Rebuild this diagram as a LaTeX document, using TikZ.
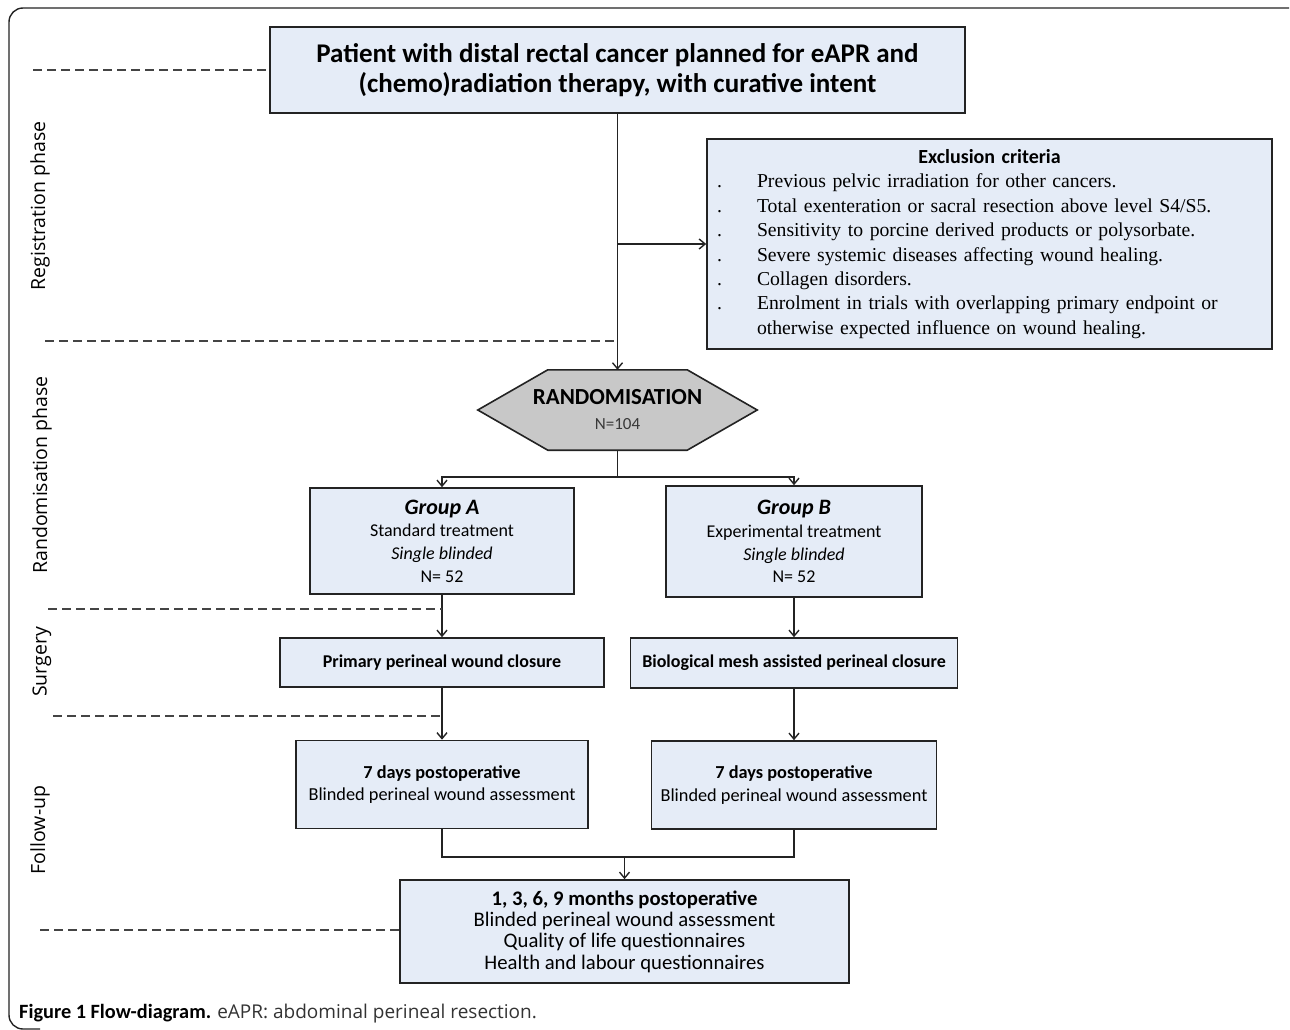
\documentclass[tikz,border=0pt]{standalone}
\usepackage{fontspec}
\setmainfont{Carlito}
\newfontfamily\serifx{Liberation Serif}
\newfontfamily\phasefont{Open Sans}
\usetikzlibrary{arrows.meta,backgrounds}
\definecolor{boxblue}{RGB}{229,236,247}
\definecolor{hexgray}{RGB}{200,200,200}
\definecolor{linegray}{RGB}{35,35,35}
\newcommand\exitem[1]{\makebox[40pt][l]{.}#1}
\tikzset{
  box/.style={draw=linegray, line width=1.6pt, fill=boxblue, inner sep=0pt, align=center},
  conn/.style={draw=linegray, line width=1.4pt},
  arr/.style={conn, -{Straight Barb[length=6pt,width=10pt]}},
  phase/.style={draw=linegray!85, line width=1.6pt, dash pattern=on 9pt off 5pt},
  phaselabel/.style={rotate=90, inner sep=0pt, font=\phasefont\fontsize{19.5}{22}\selectfont},
}
\begin{document}
\begin{tikzpicture}[x=1pt,y=-1pt]
\useasboundingbox (0,0) rectangle (1290,1030);
\draw[conn, rounded corners=14pt] (1289,8) -- (9,8) -- (9,1029) -- (40,1029);

% registration
\node[box, minimum width=695pt, minimum height=86pt, font=\bfseries\fontsize{27}{30}\selectfont] (patient) at (617.5,70) {Patient with distal rectal cancer planned for eAPR and\\(chemo)radiation therapy, with curative intent};
\node[box, minimum width=565pt, minimum height=210pt, text width=545pt, align=left, font=\serifx\fontsize{19.7}{24.4}\selectfont] (excl) at (989.5,244) {\makebox[545pt]{\rmfamily\bfseries\fontsize{20}{24.4}\selectfont Exclusion criteria}\\
\exitem{Previous pelvic irradiation for other cancers.}\\
\exitem{Total exenteration or sacral resection above level S4/S5.}\\
\exitem{Sensitivity to porcine derived products or polysorbate.}\\
\exitem{Severe systemic diseases affecting wound healing.}\\
\exitem{Collagen disorders.}\\
\exitem{Enrolment in trials with overlapping primary endpoint or}\\
\hspace*{40pt}otherwise expected influence on wound healing.};

% randomisation
\node[minimum width=279pt, minimum height=80pt, inner sep=0pt, align=center, font=\fontsize{17}{25}\selectfont] (rand) at (617.5,410) {{\bfseries\fontsize{23}{25}\selectfont RANDOMISATION}\\{\color{linegray!90}N=104}};
\begin{scope}[on background layer]
\draw[conn, line width=1.6pt, fill=hexgray] (rand.west) -- ([xshift=70pt]rand.north west) -- ([xshift=-70pt]rand.north east) -- (rand.east) -- ([xshift=-70pt]rand.south east) -- ([xshift=70pt]rand.south west) -- cycle;
\end{scope}
\node[box, minimum width=264pt, minimum height=106pt, font=\fontsize{18}{22.7}\selectfont] (grpA) at (442,541) {{\bfseries\itshape\fontsize{22}{22.7}\selectfont Group A}\\Standard treatment\\\textit{Single blinded}\\N= 52};
\node[box, minimum width=256pt, minimum height=111pt, font=\fontsize{18}{22.7}\selectfont] (grpB) at (794,541.5) {{\bfseries\itshape\fontsize{22}{22.7}\selectfont Group B}\\Experimental treatment\\\textit{Single blinded}\\N= 52};

% surgery
\node[box, minimum width=324pt, minimum height=49pt, font=\bfseries\fontsize{18}{22}\selectfont] (surgA) at (442,662.5) {Primary perineal wound closure};
\node[box, minimum width=327pt, minimum height=50pt, font=\bfseries\fontsize{18}{22}\selectfont] (surgB) at (794,663) {Biological mesh assisted perineal closure};

% follow-up
\node[box, minimum width=292pt, minimum height=88pt, font=\fontsize{18.3}{22.5}\selectfont] (fupA) at (442,784.5) {\textbf{7 days postoperative}\\Blinded perineal wound assessment};
\node[box, minimum width=285pt, minimum height=88pt, font=\fontsize{18.3}{22.5}\selectfont] (fupB) at (794,785) {\textbf{7 days postoperative}\\Blinded perineal wound assessment};
\node[box, minimum width=449pt, minimum height=103pt, font=\fontsize{20.7}{21.4}\selectfont] (final) at (624.5,931.5) {\textbf{1, 3, 6, 9 months postoperative}\\Blinded perineal wound assessment\\Quality of life questionnaires\\Health and labour questionnaires};

% connectors
\draw[arr] (patient) -- (rand);
\draw[arr] (patient.south |- excl.west) -- (excl.west);
\coordinate (split) at (617.5,477);
\draw[conn] (rand.south) -- (split);
\draw[arr] (split) -| (grpA.north);
\draw[arr] (split) -| (grpB.north);
\draw[arr] (grpA) -- (surgA);
\draw[arr] (grpB) -- (surgB);
\draw[arr] (surgA) -- (fupA);
\draw[arr] (surgB) -- (fupB);
\coordinate (merge) at (624.5,857);
\draw[conn] (fupA.south) |- (merge);
\draw[conn] (fupB.south) |- (merge);
\draw[arr] (merge) -- (final);

% phases
\coordinate (ph1) at (33,70);  \draw[phase] (ph1) -- (patient.west);
\coordinate (ph2) at (45,341); \draw[phase] (ph2) -- (ph2 -| patient.south);
\coordinate (ph3) at (48,609); \draw[phase] (ph3) -- (ph3 -| grpA.south);
\coordinate (ph4) at (53,716); \draw[phase] (ph4) -- (ph4 -| surgA.south);
\coordinate (ph5) at (40,930); \draw[phase] (ph5) -- (ph5 -| final.west);
\node[phaselabel] (lblreg) at (40,206) {Registration phase};
\node[phaselabel] (lblrand) at (42,475) {Randomisation phase};
\node[phaselabel] (lblsurg) at (42,662) {Surgery};
\node[phaselabel] (lblfup) at (40,830) {Follow-up};

\node[anchor=base west, inner sep=0pt, font=\fontsize{20.3}{22}\selectfont] (caption) at (19,1018) {\textbf{Figure 1 Flow-diagram.} {\phasefont\fontsize{19}{22}\selectfont\color{black!80}eAPR: abdominal perineal resection.}};
\end{tikzpicture}
\end{document}
